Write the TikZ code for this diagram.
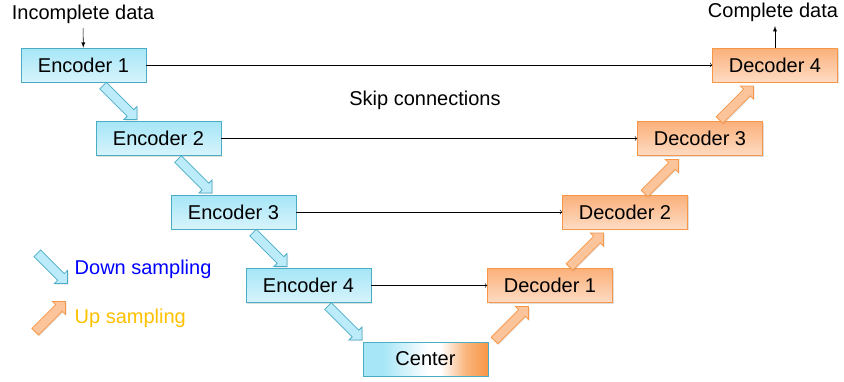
\documentclass[tikz,border=0pt]{standalone}
\usepackage{fontspec}
\setmainfont{Liberation Sans}
\usetikzlibrary{arrows,positioning,calc,shapes.arrows,shadows}
\definecolor{encfill}{HTML}{A6E6F7}
\definecolor{encline}{HTML}{4BACC6}
\definecolor{decfill}{HTML}{FBB07A}
\definecolor{decline}{HTML}{F79646}
\definecolor{upcol}{HTML}{FFC000}
\pgfdeclarehorizontalshading{centershade}{100bp}{
  color(0bp)=(encfill); color(33bp)=(encfill); color(51bp)=(white);
  color(56bp)=(white); color(66bp)=(decline!70); color(75bp)=(decline); color(100bp)=(decline)}

\begin{document}
\begin{tikzpicture}[x=0.75pt,y=-0.75pt,
  every node/.style={font=\fontsize{15}{18}\selectfont},
  box/.style={draw,rectangle,minimum width=93.75pt,minimum height=25.5pt,inner sep=0pt,
    drop shadow={shadow xshift=0.8pt,shadow yshift=-0.8pt,opacity=0.25}},
  enc/.style={box,draw=encline,top color=encfill,bottom color=encfill!45},
  dec/.style={box,draw=decline,top color=decfill,bottom color=decfill!45},
  fat/.style={single arrow,anchor=tail,inner sep=3.2pt,single arrow head extend=3.4pt,
    minimum height=36pt,line width=0.6pt,
    drop shadow={shadow xshift=0.8pt,shadow yshift=-0.8pt,opacity=0.2}},
  dn/.style={fat,draw=encline,fill=encfill!75,rotate=-45},
  up/.style={fat,draw=decline,fill=decfill!75,rotate=45}]
  \useasboundingbox (0,0) rectangle (844,382);

  % encoder and decoder blocks
  \foreach \i in {1,...,4}{
    \node[enc] (E\i) at ({83.5+75*(\i-1)},{65+73.5*(\i-1)}) {Encoder \i};
    \node[dec] (D\i) at ({550+75*(\i-1)},{285.5-73.5*(\i-1)}) {Decoder \i};
  }
  \node[box,draw=encline,shading=centershade] (C) at (425.5,359) {Center};

  % sampling arrows
  \foreach \i in {1,...,4}{
    \node[dn] (dn\i) at ($(E\i.south west)+(82,3)$) {};
    \node[up] (up\i) at ($(D\i.south west)+(7,38)$) {};
  }

  % skip connections
  \foreach \i in {1,...,4}{
    \pgfmathtruncatemacro{\j}{5-\i}
    \draw[->] (E\i.east) -- (D\j.west);
  }
  \node (skip) at (425,100) {Skip connections};

  \node (inc) at (83,14) {Incomplete data};
  \node (comp) at (773,12) {Complete data};
  \draw[-latex] (inc) -- (E1);
  \draw[-latex] (D4.north) -- (D4.north |- comp.south);

  % legend
  \node[dn,minimum height=32pt] (lgdn) at (37,253) {};
  \node[anchor=west,text=blue] (lgdntxt) at (70,269) {Down sampling};
  \node[up,minimum height=32pt] (lgup) at (35,332) {};
  \node[anchor=west,text=upcol] (lguptxt) at (70,318) {Up sampling};
\end{tikzpicture}
\end{document}
